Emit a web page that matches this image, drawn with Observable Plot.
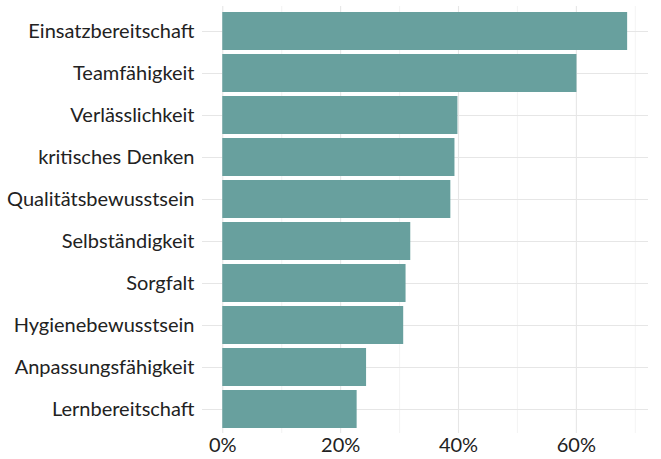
<!DOCTYPE html>
<html>
<head>
<meta charset="utf-8">
<script src="https://cdn.jsdelivr.net/npm/d3@7"></script>
<script src="https://cdn.jsdelivr.net/npm/@observablehq/plot@0.6"></script>
<style>
  html, body { margin: 0; padding: 0; background: #fff; }
  svg { display: block; }
</style>
</head>
<body>
<div id="chart"></div>
<script>
const categories = ["Einsatzbereitschaft", "Teamfähigkeit", "Verlässlichkeit", "kritisches Denken", "Qualitätsbewusstsein", "Selbständigkeit", "Sorgfalt", "Hygienebewusstsein", "Anpassungsfähigkeit", "Lernbereitschaft"];
const values = [0.687, 0.601, 0.399, 0.394, 0.387, 0.319, 0.311, 0.307, 0.244, 0.228];
const majorTicks = [0, 0.2, 0.4, 0.6];
const minorTicks = [0.1, 0.3, 0.5, 0.7];

const data = categories.map((c, i) => ({category: c, value: values[i]}));

const chart = Plot.plot({
  width: 661,
  height: 459,
  marginLeft: 202,
  marginRight: 13,
  marginTop: 6,
  marginBottom: 26,
  style: {fontFamily: "Lato, sans-serif", fontSize: "20px", color: "#222", background: "#fff"},
  x: {domain: [-0.0344, 0.7224], label: null},
  y: {domain: categories, padding: 0.1, label: null},
  marks: [
    Plot.ruleX(minorTicks, {stroke: "#ebebeb", strokeWidth: 0.6}),
    Plot.ruleX(majorTicks, {stroke: "#e6e6e6", strokeWidth: 1.1}),
    Plot.ruleY(categories, {y: d => d, stroke: "#e6e6e6", strokeWidth: 1.1}),
    Plot.barX(data, {x: "value", y: "category", fill: "#68a09e"}),
    Plot.axisX({ticks: majorTicks, tickFormat: d3.format(".0%"), tickSize: 0, tickPadding: 4, fontSize: "20px", fill: "#222", label: null}),
    Plot.axisY({tickSize: 0, tickPadding: 8, fontSize: "20px", fill: "#222", label: null})
  ]
});
document.getElementById("chart").appendChild(chart);
</script>
</body>
</html>
